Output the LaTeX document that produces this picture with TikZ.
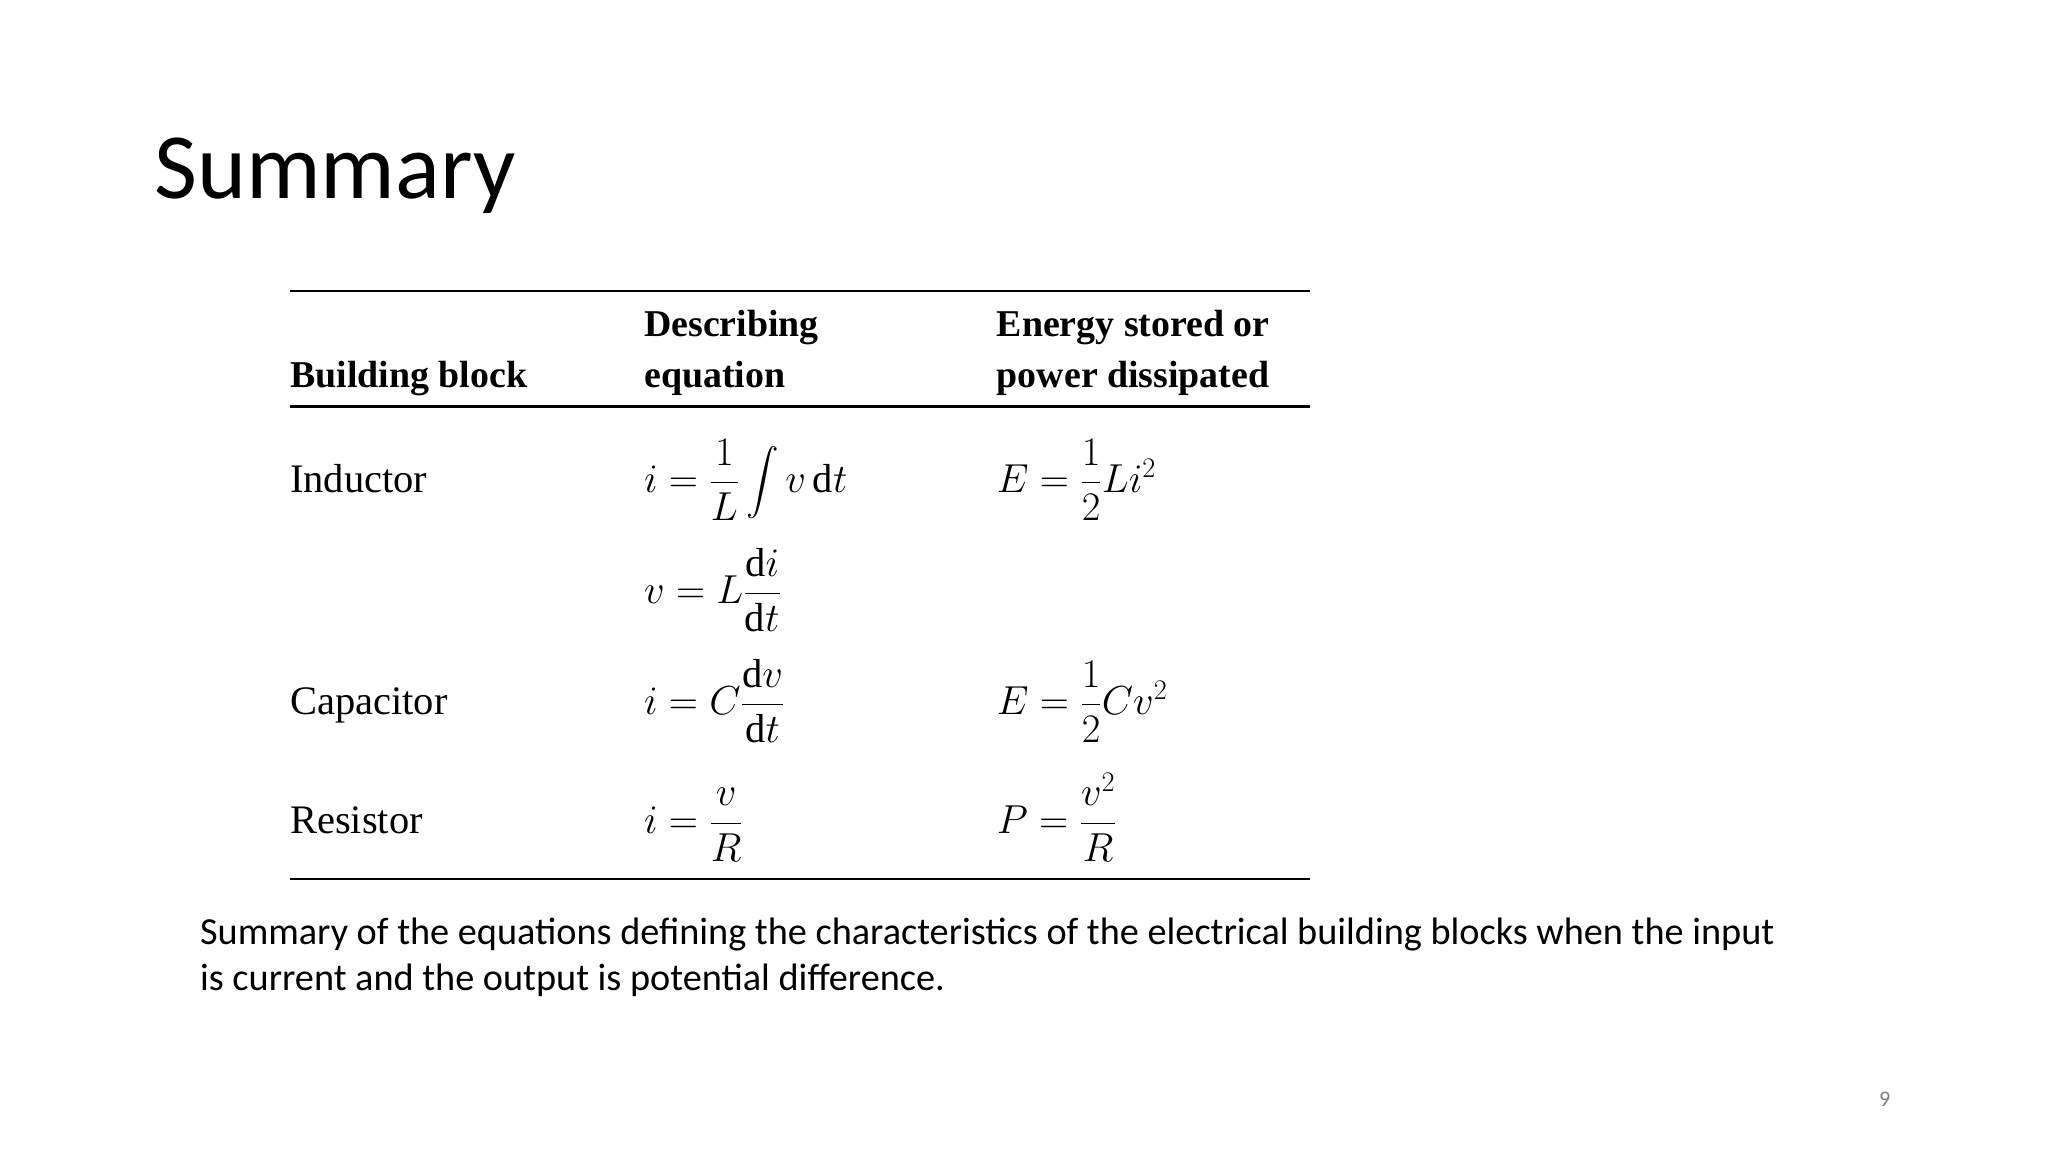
\documentclass[tikz,border=0pt]{standalone}
\usepackage{fix-cm}
\usepackage{amsmath}
\usepackage{fontspec}
\setmainfont{Liberation Serif}
\newfontfamily\calib{Carlito}
\begin{document}
\begin{tikzpicture}[x=1pt,y=-1pt,
  tx/.style={anchor=base west,inner sep=0pt,font=\fontsize{31}{36}\selectfont},
  hd/.style={anchor=base west,inner sep=0pt,font=\bfseries\fontsize{29}{34}\selectfont},
  rl/.style={line width=1.6pt}]
\useasboundingbox[fill=white] (0,0) rectangle (1568,882);
\node[anchor=base west,inner sep=0pt,font=\calib\fontsize{71.5}{76}\selectfont] (title) at (118,152) {Summary};
\coordinate (r1a) at (222,223); \coordinate (r1b) at (1003,223);
\coordinate (r2a) at (222,311); \coordinate (r2b) at (1003,311);
\coordinate (r3a) at (222,673); \coordinate (r3b) at (1003,673);
\draw[rl] (r1a)--(r1b); \draw[rl,line width=2.2pt] (r2a)--(r2b); \draw[rl] (r3a)--(r3b);
\node[hd] (h1) at (222,297) {Building block};
\node[hd] (h2a) at (493,258) {Describing};
\node[hd] (h2b) at (493,297) {equation};
\node[hd] (h3a) at (763,258) {Energy stored or};
\node[hd] (h3b) at (763,297) {power dissipated};
\node[tx] (ind) at (222,377) {Inductor};
\node[tx] (e1) at (493,377) {$i=\dfrac{1}{L}\displaystyle\int v\,\mathrm{d}t$};
\node[tx] (en1) at (763,377) {$E=\dfrac{1}{2}Li^2$};
\node[tx] (e2) at (493,462) {$v=L\dfrac{\mathrm{d}i}{\mathrm{d}t}$};
\node[tx] (cap) at (222,547) {Capacitor};
\node[tx] (e3) at (493,547) {$i=C\dfrac{\mathrm{d}v}{\mathrm{d}t}$};
\node[tx] (en3) at (763,547) {$E=\dfrac{1}{2}Cv^2$};
\node[tx] (res) at (222,638) {Resistor};
\node[tx] (e4) at (493,638) {$i=\dfrac{v}{R}$};
\node[tx] (en4) at (763,638) {$P=\dfrac{v^2}{R}$};
\node[anchor=base west,inner sep=0pt,align=left,font=\calib\fontsize{29.3}{35}\selectfont] (capt) at (153,758)
 {Summary of the equations defining the characteristics of the electrical building blocks when the input\\is current and the output is potential difference.};
\node[anchor=base,inner sep=0pt,text=gray,font=\calib\fontsize{17}{20}\selectfont] (pg) at (1443,847) {9};
\end{tikzpicture}
\end{document}
